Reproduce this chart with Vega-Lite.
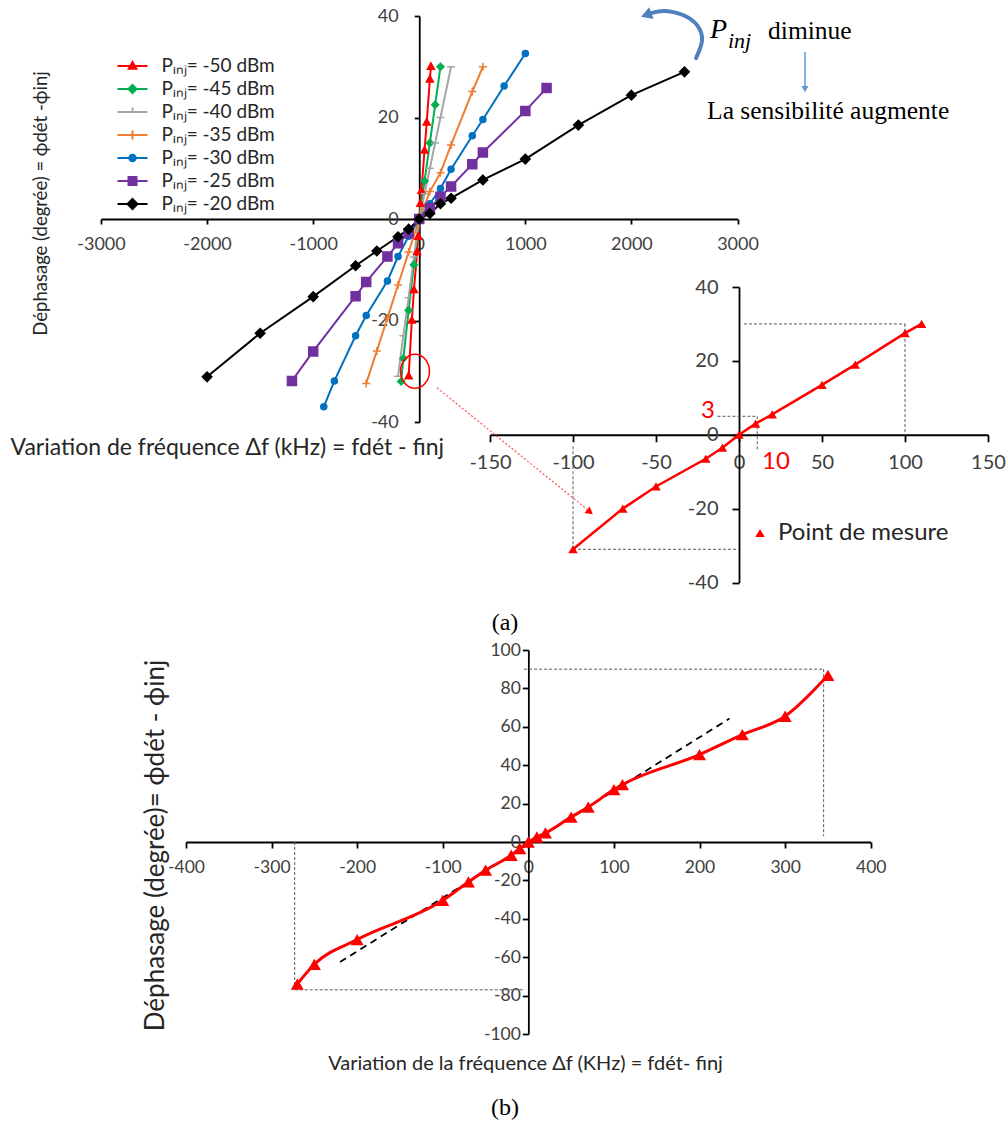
{
  "$schema": "https://vega.github.io/schema/vega-lite/v6.json",
  "width": 1008,
  "height": 1124,
  "autosize": {"type": "none"},
  "padding": 0,
  "background": "white",
  "config": {
    "view": {"stroke": null},
    "font": "Lato",
    "axis": {"grid": false, "domainColor": "#000000", "tickColor": "#000000", "domainWidth": 1.8, "tickWidth": 1.8, "labelColor": "#404040", "labelFont": "Lato", "titleFont": "Lato", "titleFontWeight": "normal", "titleColor": "#262626", "labelFlush": false, "labelOverlap": false, "labelBound": false}
  },
  "datasets": {
    "main": [
      {"s": "-50", "x": -100, "y": -31}, {"s": "-50", "x": -70, "y": -20}, {"s": "-50", "x": -50, "y": -14}, {"s": "-50", "x": -20, "y": -6.5}, {"s": "-50", "x": -10, "y": -3.5}, {"s": "-50", "x": 0, "y": 0}, {"s": "-50", "x": 10, "y": 3}, {"s": "-50", "x": 20, "y": 5.5}, {"s": "-50", "x": 50, "y": 13.5}, {"s": "-50", "x": 70, "y": 19}, {"s": "-50", "x": 100, "y": 27.5}, {"s": "-50", "x": 110, "y": 30},
      {"s": "-45", "x": -170, "y": -32}, {"s": "-45", "x": -150, "y": -27.5}, {"s": "-45", "x": -100, "y": -18}, {"s": "-45", "x": -50, "y": -9}, {"s": "-45", "x": 0, "y": 0}, {"s": "-45", "x": 50, "y": 7.5}, {"s": "-45", "x": 100, "y": 15}, {"s": "-45", "x": 150, "y": 22.5}, {"s": "-45", "x": 200, "y": 30},
      {"s": "-40", "x": -200, "y": -31}, {"s": "-40", "x": -150, "y": -23}, {"s": "-40", "x": -100, "y": -15.5}, {"s": "-40", "x": -50, "y": -7.5}, {"s": "-40", "x": 0, "y": 0}, {"s": "-40", "x": 50, "y": 5}, {"s": "-40", "x": 100, "y": 10}, {"s": "-40", "x": 150, "y": 15}, {"s": "-40", "x": 200, "y": 20}, {"s": "-40", "x": 300, "y": 30},
      {"s": "-35", "x": -500, "y": -32.4}, {"s": "-35", "x": -400, "y": -26}, {"s": "-35", "x": -300, "y": -19.5}, {"s": "-35", "x": -200, "y": -13}, {"s": "-35", "x": -100, "y": -6.5}, {"s": "-35", "x": 0, "y": 0}, {"s": "-35", "x": 100, "y": 5.4}, {"s": "-35", "x": 200, "y": 9.1}, {"s": "-35", "x": 300, "y": 14.6}, {"s": "-35", "x": 500, "y": 25.1}, {"s": "-35", "x": 600, "y": 30},
      {"s": "-30", "x": -900, "y": -37}, {"s": "-30", "x": -800, "y": -31.9}, {"s": "-30", "x": -600, "y": -23}, {"s": "-30", "x": -500, "y": -19}, {"s": "-30", "x": -300, "y": -12.2}, {"s": "-30", "x": -200, "y": -7.4}, {"s": "-30", "x": -100, "y": -3.4}, {"s": "-30", "x": 0, "y": 0}, {"s": "-30", "x": 100, "y": 3}, {"s": "-30", "x": 200, "y": 6}, {"s": "-30", "x": 300, "y": 9.8}, {"s": "-30", "x": 500, "y": 16.4}, {"s": "-30", "x": 600, "y": 19.6}, {"s": "-30", "x": 800, "y": 26.2}, {"s": "-30", "x": 1000, "y": 32.6},
      {"s": "-25", "x": -1200, "y": -31.9}, {"s": "-25", "x": -1000, "y": -26.1}, {"s": "-25", "x": -600, "y": -15.2}, {"s": "-25", "x": -500, "y": -12.4}, {"s": "-25", "x": -300, "y": -7.4}, {"s": "-25", "x": -200, "y": -4.8}, {"s": "-25", "x": -100, "y": -2.8}, {"s": "-25", "x": 0, "y": 0}, {"s": "-25", "x": 100, "y": 2.1}, {"s": "-25", "x": 200, "y": 4.4}, {"s": "-25", "x": 300, "y": 6.4}, {"s": "-25", "x": 500, "y": 10.8}, {"s": "-25", "x": 600, "y": 13.1}, {"s": "-25", "x": 1000, "y": 21.3}, {"s": "-25", "x": 1200, "y": 25.8},
      {"s": "-20", "x": -2000, "y": -31.1}, {"s": "-20", "x": -1500, "y": -22.5}, {"s": "-20", "x": -1000, "y": -15.3}, {"s": "-20", "x": -600, "y": -9.2}, {"s": "-20", "x": -400, "y": -6.3}, {"s": "-20", "x": -200, "y": -3.5}, {"s": "-20", "x": -100, "y": -2}, {"s": "-20", "x": 0, "y": 0}, {"s": "-20", "x": 100, "y": 1.1}, {"s": "-20", "x": 200, "y": 3}, {"s": "-20", "x": 300, "y": 4.1}, {"s": "-20", "x": 600, "y": 7.7}, {"s": "-20", "x": 1000, "y": 11.8}, {"s": "-20", "x": 1500, "y": 18.5}, {"s": "-20", "x": 2000, "y": 24.4}, {"s": "-20", "x": 2500, "y": 29}
    ],
    "inset": [
      {"x": -100, "y": -31}, {"x": -70, "y": -20}, {"x": -50, "y": -14}, {"x": -20, "y": -6.5}, {"x": -10, "y": -3.5}, {"x": 0, "y": 0}, {"x": 10, "y": 3}, {"x": 20, "y": 5.5}, {"x": 50, "y": 13.5}, {"x": 70, "y": 19}, {"x": 100, "y": 27.5}, {"x": 110, "y": 30}
    ],
    "b": [
      {"x": -270, "y": -74}, {"x": -250, "y": -63.7}, {"x": -200, "y": -50.8}, {"x": -100, "y": -30.4}, {"x": -70, "y": -20.8}, {"x": -50, "y": -14.7}, {"x": -20, "y": -6.9}, {"x": -10, "y": -3.4}, {"x": 0, "y": 0}, {"x": 10, "y": 2.6}, {"x": 20, "y": 4.7}, {"x": 50, "y": 13}, {"x": 70, "y": 18.2}, {"x": 100, "y": 27.3}, {"x": 110, "y": 29.9}, {"x": 200, "y": 45.5}, {"x": 250, "y": 55.9}, {"x": 300, "y": 65.5}, {"x": 350, "y": 86.8}
    ]
  },
  "layer": [
    {
      "resolve": {"scale": {"shape": "independent", "fill": "independent", "stroke": "independent"}},
      "layer": [
        {
          "data": {"name": "main"},
          "mark": {"type": "line", "strokeWidth": 2},
          "encoding": {
            "x": {"field": "x", "type": "quantitative", "scale": {"domain": [-3000, 3000], "range": [101, 737.5], "nice": false, "zero": false},
              "axis": {"orient": "bottom", "offset": -905, "values": [-3000, -2000, -1000, 0, 1000, 2000, 3000], "labelExpr": "'' + datum.value", "tickSize": 5, "labelPadding": 11, "labelFontSize": 18, "encode": {"ticks": {"y": {"value": -5}}},
                "title": "Variation de fréquence Δf (kHz) = fdét - finj", "titleX": 10, "titleY": 228, "titleAlign": "left", "titleBaseline": "middle", "titleFontSize": 23, "titleAngle": 0}},
            "y": {"field": "y", "type": "quantitative", "scale": {"domain": [-40, 40], "range": [422, 16], "nice": false, "zero": false},
              "axis": {"orient": "left", "offset": -419.25, "values": [-40, -20, 0, 20, 40], "labelExpr": "'' + datum.value", "tickSize": 5, "labelPadding": 16, "labelFontSize": 18, "encode": {"ticks": {"x": {"value": 5}}},
                "title": "Déphasage (degrée) = ϕdét  -ϕinj", "titleX": -379, "titleY": 203, "titleAngle": -90, "titleAlign": "center", "titleBaseline": "middle", "titleFontSize": 18.5}},
            "color": {"field": "s", "type": "nominal", "scale": {"domain": ["-50", "-45", "-40", "-35", "-30", "-25", "-20"], "range": ["#FF0000", "#00B050", "#A5A5A5", "#ED7D31", "#0070C0", "#7030A0", "#000000"]}, "legend": null}
          }
        },
        {
          "data": {"name": "main"},
          "mark": {"type": "point", "filled": true, "opacity": 1, "strokeWidth": 1.5, "size": 100},
          "encoding": {
            "x": {"field": "x", "type": "quantitative"},
            "y": {"field": "y", "type": "quantitative"},
            "color": {"field": "s", "type": "nominal", "legend": null},
            "stroke": {"field": "s", "type": "nominal", "scale": {"domain": ["-50", "-45", "-40", "-35", "-30", "-25", "-20"], "range": ["#FF0000", "#00B050", "#A5A5A5", "#ED7D31", "#0070C0", "#7030A0", "#000000"]}, "legend": null},
            "shape": {"field": "s", "type": "nominal", "scale": {"domain": ["-50", "-45", "-40", "-35", "-30", "-25", "-20"], "range": ["M0,-0.8L0.7,0.5L-0.7,0.5Z", "M0,-0.7L0.7,0L0,0.7L-0.7,0Z", "M-0.8,0H0.8", "M-0.8,0H0.8M0,-0.8V0.8", "M-0.6,0A0.6,0.6 0 1,0 0.6,0A0.6,0.6 0 1,0 -0.6,0", "M-0.9,-0.9H0.9V0.9H-0.9Z", "M0,-0.95L0.95,0L0,0.95L-0.95,0Z"]}, "legend": null}
          }
        },
        {
          "data": {"name": "main"},
          "transform": [{"filter": "datum.x > 99999"}],
          "mark": {"type": "point", "filled": true, "opacity": 1, "strokeWidth": 2},
          "encoding": {
            "fill": {"field": "s", "type": "nominal", "scale": {"domain": ["-50", "-45", "-40", "-35", "-30", "-25", "-20"], "range": ["#FF0000", "#00B050", "#A5A5A5", "#ED7D31", "#0070C0", "#7030A0", "#000000"]},
              "legend": {"orient": "none", "legendX": 121.5, "legendY": 55, "title": null, "symbolSize": 400, "symbolStrokeWidth": 2, "labelFontSize": 19, "labelColor": "#262626", "labelFont": "Lato", "labelLimit": 400, "rowPadding": 2, "labelOffset": 18, "padding": 0, "labelExpr": "'Pᵢₙⱼ= ' + datum.label + ' dBm'"}},
            "stroke": {"field": "s", "type": "nominal", "scale": {"domain": ["-50", "-45", "-40", "-35", "-30", "-25", "-20"], "range": ["#FF0000", "#00B050", "#A5A5A5", "#ED7D31", "#0070C0", "#7030A0", "#000000"]},
              "legend": {"orient": "none", "legendX": 121.5, "legendY": 55, "title": null, "symbolSize": 400, "symbolStrokeWidth": 2, "labelFontSize": 19, "labelColor": "#262626", "labelFont": "Lato", "labelLimit": 400, "rowPadding": 2, "labelOffset": 18, "padding": 0, "labelExpr": "'Pᵢₙⱼ= ' + datum.label + ' dBm'"}},
            "shape": {"field": "s", "type": "nominal", "scale": {"domain": ["-50", "-45", "-40", "-35", "-30", "-25", "-20"], "range": ["M-1.5,0H1.5M0,-0.4L0.38,0.28L-0.38,0.28Z", "M-1.5,0H1.5M0,-0.4L0.4,0L0,0.4L-0.4,0Z", "M-1.5,0H1.5M0,0V-0.45", "M-1.5,0H1.5M0,-0.45V0.45", "M-1.5,0H1.5M-0.32,0A0.32,0.32 0 1,0 0.32,0A0.32,0.32 0 1,0 -0.32,0", "M-1.5,0H1.5M-0.4,-0.4H0.4V0.4H-0.4Z", "M-1.5,0H1.5M0,-0.5L0.5,0L0,0.5L-0.5,0Z"]},
              "legend": {"orient": "none", "legendX": 121.5, "legendY": 55, "title": null, "symbolSize": 400, "symbolStrokeWidth": 2, "labelFontSize": 19, "labelColor": "#262626", "labelFont": "Lato", "labelLimit": 400, "rowPadding": 2, "labelOffset": 18, "padding": 0, "labelExpr": "'Pᵢₙⱼ= ' + datum.label + ' dBm'"}}
          }
        },
        {
          "data": {"values": [{"x": -40, "y": -30}]},
          "mark": {"type": "point", "shape": "M-0.85,0A0.85,1 0 1,0 0.85,0A0.85,1 0 1,0 -0.85,0", "size": 1156, "filled": false, "color": "#FF0000", "strokeWidth": 1.5, "opacity": 1},
          "encoding": {"x": {"field": "x", "type": "quantitative"}, "y": {"field": "y", "type": "quantitative"}}
        },
        {
          "data": {"values": [{"o": 1, "x": 2609, "y": 31.7}, {"o": 2, "x": 2666, "y": 35.3}, {"o": 3, "x": 2619, "y": 38.2}, {"o": 4, "x": 2486, "y": 40.2}, {"o": 5, "x": 2317, "y": 41.0}, {"o": 6, "x": 2194, "y": 40.6}]},
          "mark": {"type": "line", "interpolate": "cardinal", "color": "#4F81BD", "strokeWidth": 4, "strokeCap": "round"},
          "encoding": {"x": {"field": "x", "type": "quantitative"}, "y": {"field": "y", "type": "quantitative"}, "order": {"field": "o", "type": "quantitative"}}
        },
        {
          "data": {"values": [{"x": 2140, "y": 40.2}]},
          "mark": {"type": "point", "shape": "triangle-left", "size": 160, "filled": true, "color": "#4F81BD", "opacity": 1, "angle": 340},
          "encoding": {"x": {"field": "x", "type": "quantitative"}, "y": {"field": "y", "type": "quantitative"}}
        },
        {
          "data": {"values": [{"x": 3636, "y": 32.9}, {"x": 3636, "y": 26.2}]},
          "mark": {"type": "line", "color": "#5B9BD5", "strokeWidth": 1.5},
          "encoding": {"x": {"field": "x", "type": "quantitative"}, "y": {"field": "y", "type": "quantitative"}}
        },
        {
          "data": {"values": [{"x": 3636, "y": 25.6}]},
          "mark": {"type": "point", "shape": "triangle-down", "size": 50, "filled": true, "color": "#5B9BD5", "opacity": 1},
          "encoding": {"x": {"field": "x", "type": "quantitative"}, "y": {"field": "y", "type": "quantitative"}}
        },
        {
          "data": {"values": [{"x": 2741, "y": 37.2, "t": "P"}]},
          "mark": {"type": "text", "font": "Liberation Serif", "fontStyle": "italic", "fontSize": 28, "align": "left", "baseline": "middle", "color": "#000000"},
          "encoding": {"x": {"field": "x", "type": "quantitative"}, "y": {"field": "y", "type": "quantitative"}, "text": {"field": "t"}}
        },
        {
          "data": {"values": [{"x": 2910, "y": 35.0, "t": "inj"}]},
          "mark": {"type": "text", "font": "Liberation Serif", "fontStyle": "italic", "fontSize": 22, "align": "left", "baseline": "middle", "color": "#000000"},
          "encoding": {"x": {"field": "x", "type": "quantitative"}, "y": {"field": "y", "type": "quantitative"}, "text": {"field": "t"}}
        },
        {
          "data": {"values": [{"x": 3288, "y": 37.0, "t": "diminue"}, {"x": 2713, "y": 21.3, "t": "La sensibilité augmente"}]},
          "mark": {"type": "text", "font": "Liberation Serif", "fontSize": 25.5, "align": "left", "baseline": "middle", "color": "#000000"},
          "encoding": {"x": {"field": "x", "type": "quantitative"}, "y": {"field": "y", "type": "quantitative"}, "text": {"field": "t"}}
        }
      ]
    },
    {
      "layer": [
        {
          "data": {"values": [{"x": 3, "x2": 100, "y": 30, "y2": 30}, {"x": 100, "x2": 100, "y": 30, "y2": 0}, {"x": -13, "x2": 11, "y": 5, "y2": 5}, {"x": 11, "x2": 11, "y": 5, "y2": -4}, {"x": -100, "x2": -100, "y": -31, "y2": -3}, {"x": -100, "x2": 0, "y": -31, "y2": -31}]},
          "mark": {"type": "rule", "color": "#595959", "strokeDash": [3, 2], "strokeWidth": 1},
          "encoding": {
            "x": {"field": "x", "type": "quantitative", "scale": {"domain": [-150, 150], "range": [490, 988], "nice": false, "zero": false},
              "axis": {"orient": "bottom", "offset": -689.25, "values": [-150, -100, -50, 0, 50, 100, 150], "labelExpr": "'' + datum.value", "tickSize": 7, "labelPadding": 11, "labelFontSize": 20, "encode": {"ticks": {"y": {"value": -7}}}, "title": null}},
            "x2": {"field": "x2"},
            "y": {"field": "y", "type": "quantitative", "scale": {"domain": [-40, 40], "range": [582.5, 287], "nice": false, "zero": false},
              "axis": {"orient": "left", "offset": -739, "values": [-40, -20, 0, 20, 40], "labelExpr": "'' + datum.value", "tickSize": 7, "labelPadding": 14, "labelFontSize": 20, "encode": {"ticks": {"x": {"value": 7}}}, "title": null}},
            "y2": {"field": "y2"}
          }
        },
        {
          "data": {"values": [{"x": -181.9, "y": 12.7}, {"x": -91.5, "y": -20.2}]},
          "mark": {"type": "line", "color": "#FF5050", "strokeDash": [2, 2], "strokeWidth": 1.2},
          "encoding": {"x": {"field": "x", "type": "quantitative"}, "y": {"field": "y", "type": "quantitative"}}
        },
        {
          "data": {"values": [{"x": -89.8, "y": -20.9}]},
          "mark": {"type": "point", "shape": "triangle-up", "size": 70, "filled": true, "color": "#FF0000", "opacity": 1, "angle": 129},
          "encoding": {"x": {"field": "x", "type": "quantitative"}, "y": {"field": "y", "type": "quantitative"}}
        },
        {
          "data": {"name": "inset"},
          "mark": {"type": "line", "color": "#FF0000", "strokeWidth": 2.5},
          "encoding": {"x": {"field": "x", "type": "quantitative"}, "y": {"field": "y", "type": "quantitative"}}
        },
        {
          "data": {"name": "inset"},
          "mark": {"type": "point", "filled": true, "color": "#FF0000", "opacity": 1, "size": 90},
          "encoding": {
            "x": {"field": "x", "type": "quantitative"},
            "y": {"field": "y", "type": "quantitative"},
            "shape": {"datum": "Point de mesure", "scale": {"range": ["triangle-up"]},
              "legend": {"orient": "none", "legendX": 748, "legendY": 521, "title": null, "labelFontSize": 24, "labelFont": "Lato", "labelColor": "#262626", "labelLimit": 400, "symbolSize": 90, "labelOffset": 6, "padding": 0}}
          }
        },
        {
          "data": {"values": [{"x": -18.7, "y": 6.4, "t": "3"}, {"x": 22.3, "y": -7.4, "t": "10"}]},
          "mark": {"type": "text", "font": "Lato", "fontSize": 24, "align": "center", "baseline": "middle", "color": "#FF0000"},
          "encoding": {"x": {"field": "x", "type": "quantitative"}, "y": {"field": "y", "type": "quantitative"}, "text": {"field": "t"}}
        }
      ]
    },
    {
      "layer": [
        {
          "data": {"values": [{"x": -273, "x2": -273, "y": 0, "y2": -77}, {"x": -273, "x2": -4, "y": -77, "y2": -77}, {"x": -5, "x2": 345, "y": 90, "y2": 90}, {"x": 345, "x2": 345, "y": 90, "y2": 3}]},
          "mark": {"type": "rule", "color": "#595959", "strokeDash": [3, 2], "strokeWidth": 1},
          "encoding": {
            "x": {"field": "x", "type": "quantitative", "scale": {"domain": [-400, 400], "range": [186, 870.7], "nice": false, "zero": false},
              "axis": {"orient": "bottom", "offset": -282, "values": [-400, -300, -200, -100, 0, 100, 200, 300, 400], "labelExpr": "'' + datum.value", "tickSize": 6, "labelPadding": 10, "labelFontSize": 17.5, "encode": {"ticks": {"y": {"value": -6}}},
                "title": "Variation de la fréquence Δf (KHz) = fdét- finj", "titleX": 525, "titleY": 221, "titleAlign": "center", "titleBaseline": "middle", "titleFontSize": 20, "titleAngle": 0}},
            "x2": {"field": "x2"},
            "y": {"field": "y", "type": "quantitative", "scale": {"domain": [-100, 100], "range": [1034, 650], "nice": false, "zero": false},
              "axis": {"orient": "left", "offset": -528.35, "values": [-100, -80, -60, -40, -20, 0, 20, 40, 60, 80, 100], "labelExpr": "'' + datum.value", "tickSize": 6, "labelPadding": 2, "labelFontSize": 17.5, "encode": {"ticks": {"x": {"value": 6}}},
                "title": "Déphasage (degrée)= ϕdét - ϕinj", "titleX": -373, "titleY": 845, "titleAngle": -90, "titleAlign": "center", "titleBaseline": "middle", "titleFontSize": 26}},
            "y2": {"field": "y2"}
          }
        },
        {
          "data": {"values": [{"x": -220, "y": -62.5}, {"x": 235, "y": 64.3}]},
          "mark": {"type": "line", "color": "#000000", "strokeDash": [7, 5], "strokeWidth": 1.8},
          "encoding": {"x": {"field": "x", "type": "quantitative"}, "y": {"field": "y", "type": "quantitative"}}
        },
        {
          "data": {"name": "b"},
          "mark": {"type": "line", "color": "#FF0000", "strokeWidth": 3, "interpolate": "monotone"},
          "encoding": {"x": {"field": "x", "type": "quantitative"}, "y": {"field": "y", "type": "quantitative"}}
        },
        {
          "data": {"name": "b"},
          "mark": {"type": "point", "shape": "triangle-up", "filled": true, "color": "#FF0000", "opacity": 1, "size": 170},
          "encoding": {"x": {"field": "x", "type": "quantitative"}, "y": {"field": "y", "type": "quantitative"}}
        },
        {
          "data": {"values": [{"x": -27.3, "y": 114.1, "t": "(a)"}, {"x": -27.3, "y": -138.5, "t": "(b)"}]},
          "mark": {"type": "text", "font": "Liberation Serif", "fontSize": 24, "align": "center", "baseline": "middle", "color": "#000000"},
          "encoding": {"x": {"field": "x", "type": "quantitative"}, "y": {"field": "y", "type": "quantitative"}, "text": {"field": "t"}}
        }
      ]
    }
  ],
  "resolve": {
    "scale": {"x": "independent", "y": "independent", "color": "independent", "shape": "independent", "fill": "independent", "stroke": "independent"},
    "axis": {"x": "independent", "y": "independent"},
    "legend": {"shape": "independent", "fill": "independent", "stroke": "independent", "color": "independent"}
  }
}
